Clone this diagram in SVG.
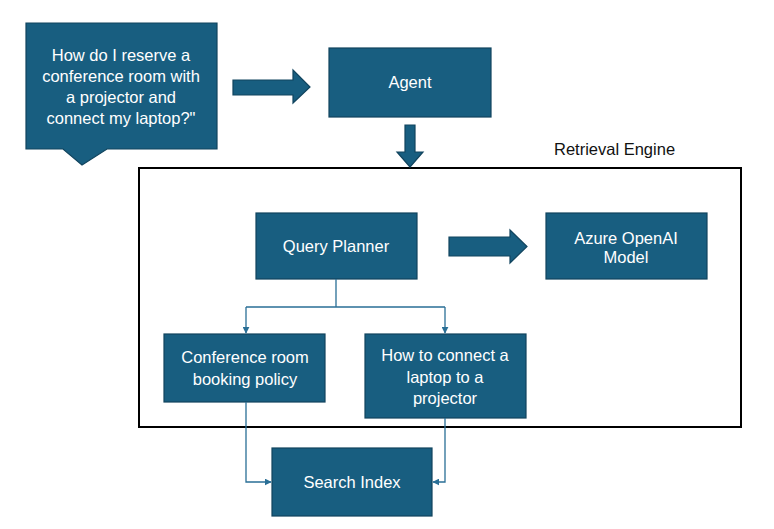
<svg xmlns="http://www.w3.org/2000/svg" width="774" height="529" viewBox="0 0 774 529">
<defs>
<style>
.box{fill:#185e80;stroke:#11445e;stroke-width:1.2}
.t{fill:#ffffff;font-family:"Liberation Sans","Open Sans",sans-serif;font-size:16.5px;text-anchor:middle}
.lbl{fill:#111;font-family:"Liberation Sans","Open Sans",sans-serif;font-size:16.5px}
.con{fill:none;stroke:#2a6f96;stroke-width:1.3}
</style>
<marker id="ah" viewBox="0 0 10 10" refX="9" refY="5" markerWidth="7" markerHeight="7" markerUnits="userSpaceOnUse" orient="auto">
<path d="M0,0 L10,5 L0,10 z" fill="#2a6f96"/>
</marker>
</defs>
<rect width="774" height="529" fill="#ffffff"/>
<rect id="retrieval-engine" x="139" y="168" width="602" height="259" fill="none" stroke="#000" stroke-width="2"/>
<text class="lbl" x="554" y="155">Retrieval Engine</text>
<g id="question">
<path class="box" d="M26,23 H217 V149 H107 L82,165 L63,149 H26 Z"/>
<text class="t" x="121" y="61">How do I reserve a</text>
<text class="t" x="121" y="82">conference room with</text>
<text class="t" x="121" y="103">a projector and</text>
<text class="t" x="121" y="124">connect my laptop?"</text>
</g>
<g id="agent">
<rect class="box" x="329" y="48" width="162" height="69"/>
<text class="t" x="410" y="88">Agent</text>
</g>
<g id="query-planner">
<rect class="box" x="256" y="213" width="161" height="66"/>
<text class="t" x="336" y="252">Query Planner</text>
</g>
<g id="azure-openai">
<rect class="box" x="546" y="213" width="161" height="66"/>
<text class="t" x="626" y="244">Azure OpenAI</text>
<text class="t" x="626" y="263">Model</text>
</g>
<g id="booking-policy">
<rect class="box" x="164" y="334" width="161" height="68"/>
<text class="t" x="245" y="363">Conference room</text>
<text class="t" x="245" y="385">booking policy</text>
</g>
<g id="connect-laptop">
<rect class="box" x="365" y="334" width="161" height="84"/>
<text class="t" x="445" y="361">How to connect a</text>
<text class="t" x="445" y="383">laptop to a</text>
<text class="t" x="445" y="404">projector</text>
</g>
<g id="search-index">
<rect class="box" x="272" y="448" width="160" height="68"/>
<text class="t" x="352" y="488">Search Index</text>
</g>
<g id="connectors">
<path class="box" d="M233,80 H293 V70 L310,87 L293,103 V95 H233 Z"/>
<path class="box" d="M405,125 H415 V152 H423 L410,167 L397,152 H405 Z"/>
<path class="box" d="M449,237 H510 V230 L527,246.5 L510,263 V256 H449 Z"/>
<path class="con" d="M336,279 V307 M246,307 H445"/>
<path class="con" d="M246,307 V333" marker-end="url(#ah)"/>
<path class="con" d="M445,307 V333" marker-end="url(#ah)"/>
<path class="con" d="M246,402 V482 H271" marker-end="url(#ah)"/>
<path class="con" d="M445,418 V482 H433" marker-end="url(#ah)"/>
</g>
</svg>
